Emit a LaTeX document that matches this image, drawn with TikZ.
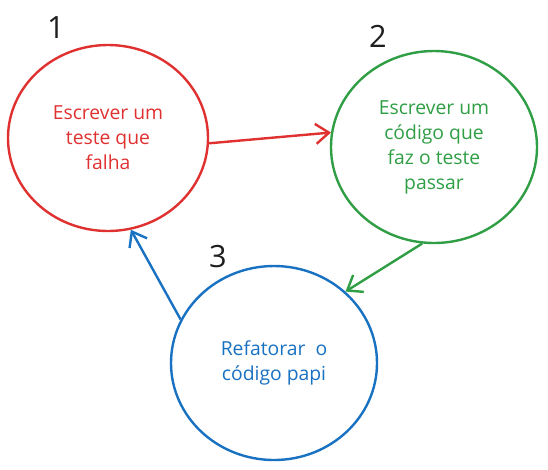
\documentclass[tikz,border=0pt]{standalone}
\usepackage{fontspec}
\setsansfont{Open Sans}
\usepackage{xcolor}
\usetikzlibrary{shapes.geometric,arrows.meta}

\definecolor{redline}{HTML}{E03131}
\definecolor{greenline}{HTML}{2F9E44}
\definecolor{blueline}{HTML}{1971C2}
\definecolor{inkdark}{HTML}{1E1E1E}

\begin{document}
\begin{tikzpicture}[x=0.75pt,y=0.75pt,yscale=-1,xscale=1,
  stepring/.style={ellipse, draw, line width=1.8pt, inner sep=0pt, align=center, font=\sffamily\fontsize{14.5}{18.75}\selectfont},
  flow/.style={line width=1.8pt, -{Straight Barb[length=10pt,width=15pt]}},
  stepnum/.style={font=\sffamily\fontsize{23}{26}\selectfont, text=inkdark, inner sep=0.75pt}]
%set diagram left start at 0, and has height of 469
\useasboundingbox (0,0) rectangle (548,469);

%Shape: Ellipse [red]
\node [stepring, draw=redline, text=redline, minimum width=150pt, minimum height=139.5pt] (escrever) at (108,138) {Escrever um\\teste que\\falha};
%Shape: Ellipse [green]
\node [stepring, draw=greenline, text=greenline, minimum width=154.5pt, minimum height=144pt] (codigo) at (434,147) {Escrever um\\código que\\faz o teste\\passar};
%Shape: Ellipse [blue]
\node [stepring, draw=blueline, text=blueline, minimum width=154.5pt, minimum height=145.5pt] (refatorar) at (274,363) {Refatorar\ \ o\\código papi};

% Text Node
\node [stepnum] (num1) at (56,28) {1};
% Text Node
\node [stepnum] (num2) at (378,36) {2};
% Text Node
\node [stepnum] (num3) at (218,257) {3};

%Straight Lines
\draw [flow, redline] (escrever.-3) -- (codigo.172);
%Straight Lines
\draw [flow, greenline] (codigo.263) -- (refatorar.45);
%Straight Lines
\draw [flow, blueline] (refatorar.155) -- (escrever.-76);

\end{tikzpicture}
\end{document}
